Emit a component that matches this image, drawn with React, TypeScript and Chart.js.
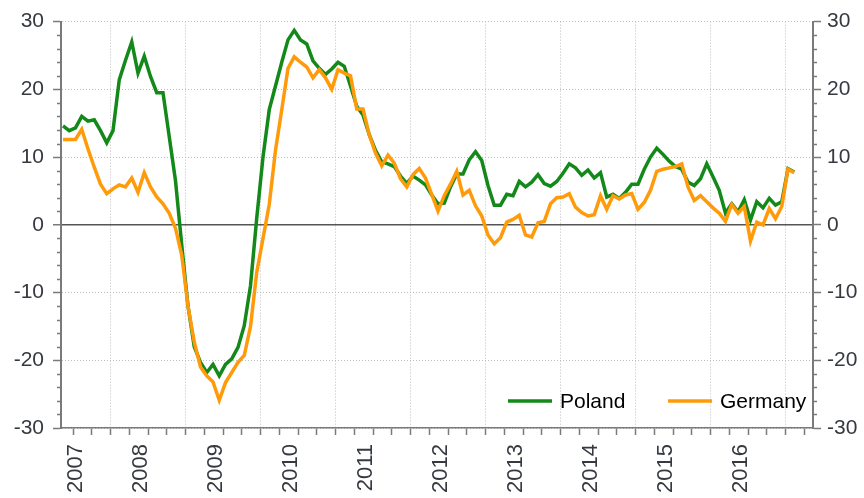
import { useEffect, useRef } from "react";
import { Chart, registerables } from "chart.js";

Chart.register(...registerables);

// ---- data (monthly observations, y/y %) ----
const YEARS = ["2007", "2008", "2009", "2010", "2011", "2012", "2013", "2014", "2015", "2016"];

const POLAND = [
  14.6, 13.9, 14.3, 16.0, 15.3, 15.5, 13.9, 12.1, 13.9, 21.4, 24.3, 27.0,
  22.4, 24.9, 21.9, 19.5, 19.5, 13.0, 6.5, -3.0, -12.0, -18.0, -20.3, -21.8,
  -20.6, -22.3, -20.6, -19.8, -18.1, -14.9, -9.0, 1.0, 10.0, 17.0, 20.5, 24.0,
  27.3, 28.7, 27.3, 26.7, 24.2, 23.1, 22.2, 23.0, 24.0, 23.4, 20.5, 17.5,
  16.2, 13.3, 11.0, 9.3, 9.0, 8.6, 7.2, 6.1, 7.2, 6.6, 5.9, 4.4,
  3.1, 3.2, 5.6, 7.5, 7.5, 9.6, 10.8, 9.5, 5.8, 2.9, 2.9, 4.5,
  4.3, 6.4, 5.6, 6.3, 7.4, 6.1, 5.7, 6.4, 7.6, 9.0, 8.4, 7.3,
  8.1, 6.9, 7.7, 4.1, 4.5, 3.9, 4.8, 6.0, 6.0, 8.2, 10.0, 11.3,
  10.4, 9.4, 8.6, 8.2, 6.3, 5.8, 6.8, 9.0, 7.1, 5.1, 1.7, 3.1,
  1.9, 3.7, 0.7, 3.4, 2.5, 3.9, 2.9, 3.4, 8.3, 7.8,
];

const GERMANY = [
  12.6, 12.6, 12.6, 14.1, 11.2, 8.5, 6.0, 4.6, 5.3, 5.9, 5.6, 6.9,
  4.8, 7.7, 5.6, 4.1, 3.1, 1.7, -0.5, -4.5, -12.0, -17.3, -21.0, -22.3,
  -23.2, -25.9, -23.3, -21.8, -20.3, -19.3, -15.0, -7.0, -2.0, 3.0, 11.0, 17.0,
  23.1, 24.8, 24.0, 23.3, 21.7, 22.9, 21.7, 20.0, 22.9, 22.4, 22.0, 17.1,
  17.1, 13.3, 10.6, 8.7, 10.3, 9.1, 6.8, 5.6, 7.4, 8.3, 6.9, 4.5,
  2.0, 4.3, 6.0, 7.9, 4.4, 5.1, 2.8, 1.3, -1.5, -2.8, -1.9, 0.4,
  0.8, 1.4, -1.5, -1.8, 0.3, 0.5, 3.1, 4.0, 4.1, 4.6, 2.6, 1.8,
  1.3, 1.5, 4.3, 2.3, 4.3, 3.8, 4.4, 4.6, 2.3, 3.3, 5.1, 7.9,
  8.2, 8.4, 8.6, 9.0, 5.6, 3.6, 4.3, 3.4, 2.5, 1.7, 0.5, 3.0,
  1.7, 2.7, -2.4, 0.4, 0.0, 2.4, 0.9, 2.7, 8.2, 7.7,
];

const SERIES_NAMES = ["Poland", "Germany"];
const SERIES_COLORS = ["#13891a", "#ff9b0a"];

const Y_MIN = -30;
const Y_MAX = 30;
const Y_STEP = 10;
const Y_MINOR_STEP = 2;

// x axis expressed in observation index (months)
const X_MIN = -0.32;
const X_MAX = 120.0;
const FIRST_YEAR_LINE = 7.63;
const QUARTER = 3;
const FIRST_LABEL_POS = 2.0;
const LABEL_OFFSET = 4.82;

type XTick = { value: number; label: string; kind: "major" | "minor" | "label" };

function buildXTicks(): XTick[] {
  const out: XTick[] = [];
  for (let v = FIRST_YEAR_LINE - 2 * QUARTER; v <= X_MAX; v += QUARTER) {
    const k = Math.round((v - FIRST_YEAR_LINE) / QUARTER);
    out.push({ value: v, label: "", kind: k % 4 === 0 ? "major" : "minor" });
  }
  YEARS.forEach((y, i) => {
    const pos = i === 0 ? FIRST_LABEL_POS : FIRST_YEAR_LINE + 12 * (i - 1) + LABEL_OFFSET;
    out.push({ value: pos, label: y, kind: "label" });
  });
  out.sort((a, b) => a.value - b.value);
  return out;
}

const X_TICKS = buildXTicks();

const FONT = '"Liberation Sans", Arial, sans-serif';
const TEXT_COLOR = "#363a40";
const AXIS_COLOR = "#7a7a7a";
const GRID_COLOR = "#bdbdbd";

const minorTicksPlugin = {
  id: "minorTicks",
  afterDraw(chart: any) {
    const { ctx, chartArea, scales } = chart;
    const ys = scales.y;
    ctx.save();
    ctx.strokeStyle = AXIS_COLOR;
    ctx.lineWidth = 1.5;
    for (let v = Y_MIN; v <= Y_MAX; v += Y_MINOR_STEP) {
      if (v % Y_STEP === 0) continue;
      const py = Math.round(ys.getPixelForValue(v)) + 0.5;
      ctx.beginPath();
      ctx.moveTo(chartArea.left - 4, py);
      ctx.lineTo(chartArea.left, py);
      ctx.moveTo(chartArea.right, py);
      ctx.lineTo(chartArea.right + 4, py);
      ctx.stroke();
    }
    ctx.restore();
  },
};

const legendPlugin = {
  id: "insideLegend",
  afterDraw(chart: any) {
    const { ctx } = chart;
    const items = [
      { x: 508, idx: 0 },
      { x: 668, idx: 1 },
    ];
    ctx.save();
    ctx.font = `21px ${FONT}`;
    ctx.textBaseline = "alphabetic";
    ctx.textAlign = "left";
    items.forEach(({ x, idx }) => {
      const ds = chart.data.datasets[idx];
      ctx.strokeStyle = ds.borderColor;
      ctx.lineWidth = 3.5;
      ctx.beginPath();
      ctx.moveTo(x, 401);
      ctx.lineTo(x + 44, 401);
      ctx.stroke();
      ctx.fillStyle = "#000";
      ctx.fillText(ds.label, x + 52, 407.5);
    });
    ctx.restore();
  },
};

export default function App() {
  const ref = useRef<HTMLCanvasElement | null>(null);

  useEffect(() => {
    if (!ref.current) return;
    const toPoints = (arr: number[]) => arr.map((v, i) => ({ x: i, y: v }));
    const chart = new Chart(ref.current, {
      type: "line",
      data: {
        datasets: [
          {
            label: SERIES_NAMES[0],
            data: toPoints(POLAND),
            borderColor: SERIES_COLORS[0],
            backgroundColor: SERIES_COLORS[0],
            borderWidth: 3.5,
            pointRadius: 0,
            tension: 0,
            order: 1,
          },
          {
            label: SERIES_NAMES[1],
            data: toPoints(GERMANY),
            borderColor: SERIES_COLORS[1],
            backgroundColor: SERIES_COLORS[1],
            borderWidth: 3.5,
            pointRadius: 0,
            tension: 0,
            order: 0,
          },
        ],
      },
      options: {
        responsive: true,
        maintainAspectRatio: false,
        animation: false,
        events: [],
        layout: { padding: { top: 18, left: 0, right: 0, bottom: 0 } },
        plugins: { legend: { display: false }, tooltip: { enabled: false } },
        scales: {
          x: {
            type: "linear",
            position: "bottom",
            min: X_MIN,
            max: X_MAX,
            afterBuildTicks: (scale: any) => {
              scale.ticks = X_TICKS.map((t) => ({ value: t.value }));
            },
            afterFit: (scale: any) => {
              scale.height = 70;
            },
            grid: {
              color: (c: any) => (X_TICKS[c.index] && X_TICKS[c.index].kind === "major" ? GRID_COLOR : "rgba(0,0,0,0)"),
              lineWidth: 1,
              tickColor: (c: any) => (X_TICKS[c.index] && X_TICKS[c.index].kind === "label" ? "rgba(0,0,0,0)" : AXIS_COLOR),
              tickLength: 7,
              tickWidth: 1.5,
            },
            border: { display: true, color: AXIS_COLOR, width: 1.5, dash: [1, 2] },
            ticks: {
              autoSkip: false,
              maxRotation: 90,
              minRotation: 90,
              padding: 9,
              color: TEXT_COLOR,
              font: { family: FONT, size: 22 },
              callback: (_v: any, i: number) => (X_TICKS[i] ? X_TICKS[i].label : ""),
            },
          },
          y: {
            type: "linear",
            position: "left",
            min: Y_MIN,
            max: Y_MAX,
            afterFit: (scale: any) => {
              scale.width = 61;
            },
            grid: {
              color: (c: any) => (c.tick && c.tick.value === 0 ? "#555" : GRID_COLOR),
              lineWidth: (c: any) => (c.tick && c.tick.value === 0 ? 1.5 : 1),
              tickColor: AXIS_COLOR,
              tickLength: 8,
              tickWidth: 1.5,
            },
            border: {
              display: true,
              color: AXIS_COLOR,
              width: 2,
              dash: (c: any) => (c.tick && c.tick.value === 0 ? [] : [1, 2]),
            },
            ticks: {
              stepSize: Y_STEP,
              padding: 9,
              color: TEXT_COLOR,
              font: { family: FONT, size: 21 },
            },
          },
          y2: {
            type: "linear",
            position: "right",
            min: Y_MIN,
            max: Y_MAX,
            afterFit: (scale: any) => {
              scale.width = 51;
            },
            grid: {
              drawOnChartArea: false,
              tickColor: AXIS_COLOR,
              tickLength: 8,
              tickWidth: 1.5,
            },
            border: { display: true, color: AXIS_COLOR, width: 2 },
            ticks: {
              stepSize: Y_STEP,
              padding: 6,
              color: TEXT_COLOR,
              font: { family: FONT, size: 21 },
            },
          },
        },
      } as any,
      plugins: [minorTicksPlugin, legendPlugin],
    });
    return () => chart.destroy();
  }, []);

  return (
    <div style={{ position: "fixed", left: 0, top: 0, width: 864, height: 498, background: "#fff" }}>
      <canvas ref={ref} style={{ display: "block" }} />
    </div>
  );
}
